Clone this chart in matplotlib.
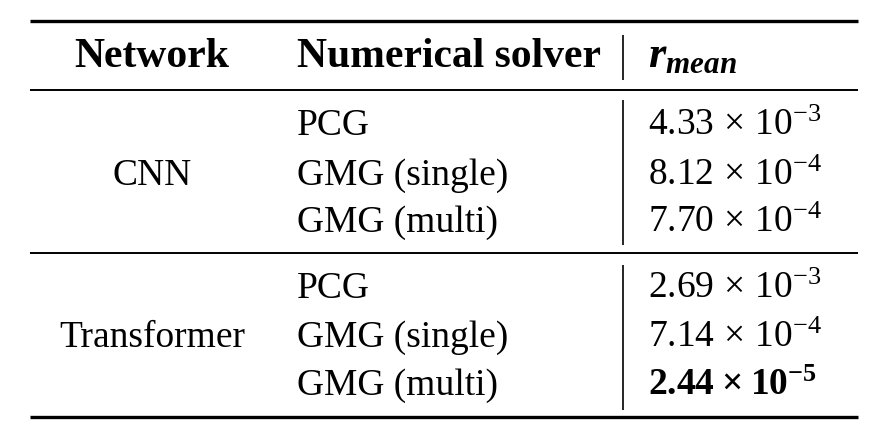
import matplotlib
matplotlib.use("Agg")
from matplotlib import rcParams
from matplotlib import pyplot as plt

# table content
header = ["Network", "Numerical solver"]
networks = ["CNN", "Transformer"]
solvers = ["PCG", "GMG (single)", "GMG (multi)"]
mantissa = [[4.33, 8.12, 7.70], [2.69, 7.14, 2.44]]
exponent = [[-3, -4, -4], [-3, -4, -5]]
best = (1, 2)  # bold cell

rcParams["font.family"] = ["Liberation Serif", "DejaVu Serif"]
rcParams["mathtext.fontset"] = "custom"
rcParams["mathtext.rm"] = "Liberation Serif"
rcParams["mathtext.it"] = "Liberation Serif:italic"
rcParams["mathtext.bf"] = "Liberation Serif:bold"
rcParams["mathtext.bfit"] = "Liberation Serif:bold:italic"

fig = plt.figure(figsize=(8.84, 4.34), dpi=100)
ax = fig.add_axes([0, 0, 1, 1])
ax.set_xlim(0, 884)
ax.set_ylim(434, 0)
ax.axis("off")

fs = 27
fs_head = 30
x_net, x_sol, x_val, x_bar = 152, 297, 648, 623
left, right = 30, 858

# rules
ax.hlines([21, 417], left, right, color="black", lw=2.4)
ax.hlines([90, 253], left, right, color="black", lw=1.4)

# header
y_head = 67
ax.text(x_net, y_head, header[0], ha="center", va="baseline", fontsize=fs_head, fontweight="bold")
ax.text(x_sol, y_head, header[1], ha="left", va="baseline", fontsize=fs_head, fontweight="bold")
ax.text(x_val, y_head, r"$\mathbfit{r}_{\mathbfit{mean}}$", ha="left", va="baseline", fontsize=32)
ax.vlines(x_bar, 35, 80, color="black", lw=1.2)

row_y = [[135, 185, 232], [298, 347, 395]]
bar_span = [(100, 245), (265, 410)]
for g, net in enumerate(networks):
    ax.text(x_net, row_y[g][1], net, ha="center", va="baseline", fontsize=fs)
    ax.vlines(x_bar, *bar_span[g], color="black", lw=1.2)
    for i, s in enumerate(solvers):
        y = row_y[g][i]
        ax.text(x_sol, y, s, ha="left", va="baseline", fontsize=fs)
        m, e = mantissa[g][i], exponent[g][i]
        if (g, i) == best:
            lab = r"$\mathbf{%.2f}\;\mathbf{\times}\;\mathbf{10}^{\mathbf{%d}}$" % (m, e)
        else:
            lab = r"$%.2f\,\times\,10^{%d}$" % (m, e)
        ax.text(x_val, y, lab, ha="left", va="baseline", fontsize=fs)

fig.savefig("out.png", dpi=100)
